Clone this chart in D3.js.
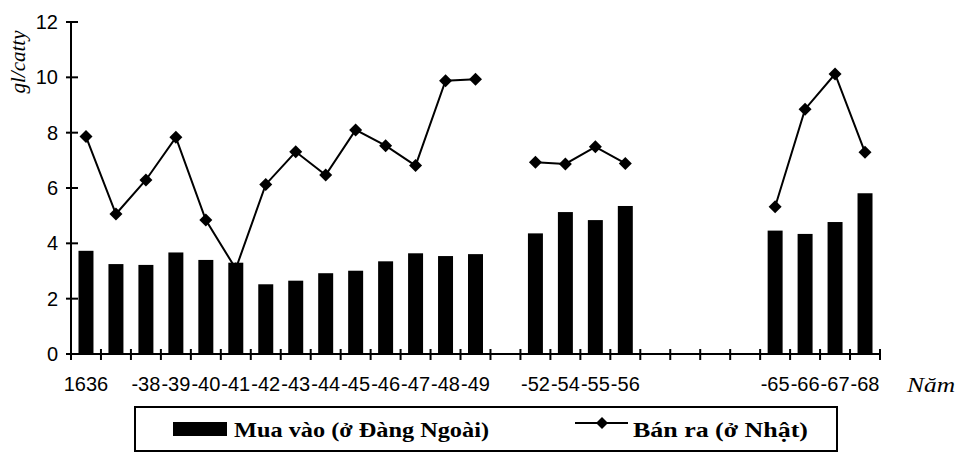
<!DOCTYPE html>
<html>
<head>
<meta charset="utf-8">
<script src="https://cdn.jsdelivr.net/npm/d3@7"></script>
<style>
  html, body { margin: 0; padding: 0; background: #fff; }
  svg { display: block; }
</style>
</head>
<body>
<svg id="chart" width="964" height="452"></svg>
<script>
// ---- data ----
const tickLabels = ["1636", "", "-38", "-39", "-40", "-41", "-42", "-43", "-44", "-45", "-46", "-47", "-48", "-49",
  "", "-52", "-54", "-55", "-56", "", "", "", "", "-65", "-66", "-67", "-68"];
const buyValues = [3.73, 3.25, 3.22, 3.67, 3.40, 3.30, 2.52, 2.65, 2.92, 3.01, 3.35, 3.64, 3.54, 3.61,
  null, 4.36, 5.13, 4.84, 5.35, null, null, null, null, 4.46, 4.34, 4.77, 5.81];
const sellValues = [7.86, 5.06, 6.29, 7.83, 4.84, 3.08, 6.13, 7.31, 6.47, 8.10, 7.53, 6.81, 9.88, 9.93,
  null, 6.93, 6.87, 7.49, 6.89, null, null, null, null, 5.32, 8.85, 10.12, 7.29];
const yTicks = [0, 2, 4, 6, 8, 10, 12];
const seriesNames = ["Mua vào (ở Đàng Ngoài)", "Bán ra (ở Nhật)"];
const yTitle = "gl/catty";
const xTitle = "Năm";

// ---- chart ----
(function () {
const svg = d3.select("#chart");
const mLeft = 71, mRight = 880, mTop = 22, mBottom = 354;
const idx = d3.range(tickLabels.length);

const x = d3.scaleBand().domain(idx).range([mLeft, mRight]).paddingInner(0).paddingOuter(0);
const y = d3.scaleLinear().domain([0, 12]).range([mBottom, mTop]);

const sans = "'Liberation Sans', Arial, sans-serif";
const serif = "'Liberation Serif', 'Times New Roman', serif";

// line (drawn first so bars can cover its lowest point like the reference)
const line = d3.line()
  .defined(i => sellValues[i] != null)
  .x(i => x(i) + x.bandwidth() / 2)
  .y(i => y(sellValues[i]));
const diamond = (cx, cy, r) => `M${cx},${cy - r}L${cx + r},${cy}L${cx},${cy + r}L${cx - r},${cy}Z`;

// bars
const barW = x.bandwidth() * 0.5;
svg.append("g").selectAll("rect")
  .data(idx.filter(i => buyValues[i] != null))
  .join("rect")
  .attr("x", i => x(i) + (x.bandwidth() - barW) / 2)
  .attr("y", i => y(buyValues[i]))
  .attr("width", barW)
  .attr("height", i => y(0) - y(buyValues[i]))
  .attr("fill", "#000");

// axes
const yAxis = svg.append("g");
yAxis.append("line").attr("x1", mLeft).attr("x2", mLeft).attr("y1", y(12)).attr("y2", y(0))
  .attr("stroke", "#000").attr("stroke-width", 2);
yAxis.selectAll("line.tk").data(yTicks).join("line").attr("class", "tk")
  .attr("x1", mLeft - 5).attr("x2", mLeft + 7)
  .attr("y1", d => y(d)).attr("y2", d => y(d))
  .attr("stroke", "#000").attr("stroke-width", 2);
yAxis.selectAll("text").data(yTicks).join("text")
  .attr("x", mLeft - 13).attr("y", d => y(d)).attr("dy", "0.35em")
  .attr("text-anchor", "end")
  .attr("font-family", sans).attr("font-size", 20)
  .text(d => d);

const xAxis = svg.append("g");
xAxis.append("line").attr("x1", mLeft).attr("x2", mRight).attr("y1", y(0)).attr("y2", y(0))
  .attr("stroke", "#000").attr("stroke-width", 2);
const boundaries = d3.range(tickLabels.length + 1).map(i => mLeft + i * x.step());
xAxis.selectAll("line.tk").data(boundaries).join("line").attr("class", "tk")
  .attr("x1", d => d).attr("x2", d => d)
  .attr("y1", y(0) - 5).attr("y2", y(0) + 6)
  .attr("stroke", "#000").attr("stroke-width", 2);
xAxis.selectAll("text").data(idx).join("text")
  .attr("x", i => x(i) + x.bandwidth() / 2).attr("y", 391)
  .attr("text-anchor", "middle")
  .attr("font-family", sans).attr("font-size", 20)
  .text(i => tickLabels[i]);

svg.append("path").datum(idx).attr("d", line)
  .attr("fill", "none").attr("stroke", "#000").attr("stroke-width", 2);
svg.append("g").selectAll("path")
  .data(idx.filter(i => sellValues[i] != null))
  .join("path")
  .attr("d", i => diamond(x(i) + x.bandwidth() / 2, y(sellValues[i]), 6.5))
  .attr("fill", "#000");

// titles
svg.append("text")
  .attr("transform", "translate(25,62) rotate(-90)")
  .attr("text-anchor", "middle")
  .attr("font-family", serif).attr("font-style", "italic").attr("font-size", 21)
  .text(yTitle);
svg.append("text")
  .attr("x", 907).attr("y", 392)
  .attr("font-family", serif).attr("font-style", "italic").attr("font-size", 22)
  .attr("textLength", 48).attr("lengthAdjust", "spacingAndGlyphs")
  .text(xTitle);

// legend
const lg = svg.append("g");
lg.append("rect").attr("x", 135).attr("y", 407).attr("width", 702).attr("height", 44)
  .attr("fill", "none").attr("stroke", "#000").attr("stroke-width", 2);
lg.append("rect").attr("x", 173).attr("y", 422).attr("width", 54).attr("height", 14).attr("fill", "#000");
lg.append("text").attr("x", 234).attr("y", 437)
  .attr("font-family", serif).attr("font-weight", "bold").attr("font-size", 22)
  .attr("textLength", 255).attr("lengthAdjust", "spacingAndGlyphs")
  .text(seriesNames[0]);
lg.append("line").attr("x1", 575).attr("x2", 628).attr("y1", 423).attr("y2", 423)
  .attr("stroke", "#000").attr("stroke-width", 2);
lg.append("path").attr("d", diamond(602, 423, 6)).attr("fill", "#000");
lg.append("text").attr("x", 633).attr("y", 437)
  .attr("font-family", serif).attr("font-weight", "bold").attr("font-size", 22)
  .attr("textLength", 175).attr("lengthAdjust", "spacingAndGlyphs")
  .text(seriesNames[1]);
})();
</script>
</body>
</html>
